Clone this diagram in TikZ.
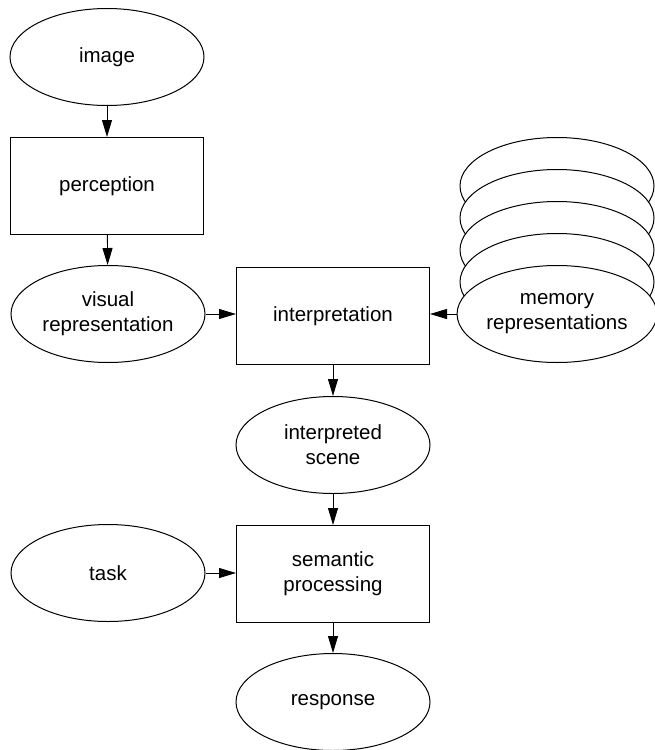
\documentclass[tikz,border=0pt]{standalone}
\usepackage{fontspec}
\setmainfont{Liberation Sans}
\usetikzlibrary{shapes.geometric, arrows.meta}

\tikzset{
        oval/.style={ellipse, draw, line width=1pt, fill=white, minimum width=194pt,
                minimum height=97pt, inner sep=0pt, align=center},
        stage/.style={rectangle, draw, line width=1pt, minimum width=193pt,
                minimum height=97pt, inner sep=0pt, align=center},
        flow/.style={line width=0.9pt, -{Triangle[length=17pt, width=10pt]}}
}

\begin{document}
\begin{tikzpicture}[x=1pt, y=-1pt, font=\fontsize{20.5}{25}\selectfont]
        \useasboundingbox (0,0) rectangle (655,750);
        % left column
        \node[oval] (image) at (107,57) {image};
        \node[stage] (perception) at (107,186) {perception};
        \node[oval] (visual) at (108,314) {visual\\representation};
        % stacked memories, back to front
        \foreach \k in {4,...,1}
                \node[oval] (mem\k) at (557,314-32*\k) {};
        \node[oval] (memory) at (557,314) {memory\\representations};
        % middle column
        \node[stage] (interp) at (333,316) {interpretation};
        \node[oval] (scene) at (333,445) {interpreted\\scene};
        \node[stage] (semantic) at (333,574) {semantic\\processing};
        \node[oval] (task) at (108,573) {task};
        \node[oval] (response) at (333,702) {response};
        % connectors
        \draw[flow] (image) -- (perception);
        \draw[flow] (perception) -- (visual);
        \draw[flow] (visual.east) -- (visual.east -| interp.west);
        \draw[flow] (memory.west) -- (memory.west -| interp.east);
        \draw[flow] (interp) -- (scene);
        \draw[flow] (scene) -- (semantic);
        \draw[flow] (task.east) -- (task.east -| semantic.west);
        \draw[flow] (semantic) -- (response);
\end{tikzpicture}
\end{document}
